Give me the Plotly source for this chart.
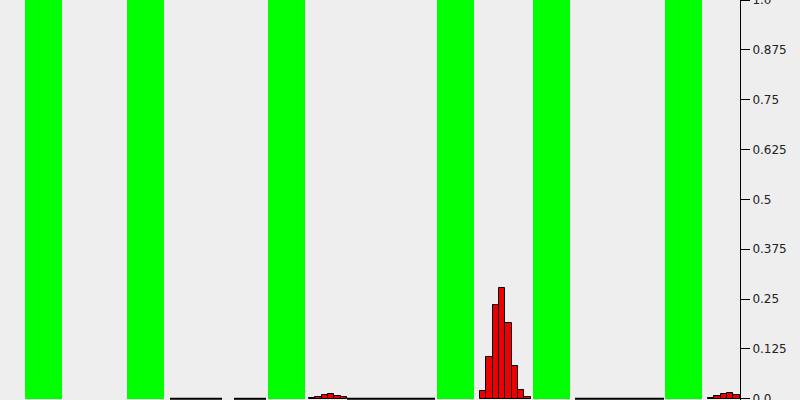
import plotly.graph_objects as go

# --- data (x in bin-position units) ---
band_starts = [25, 127, 268, 437, 533, 665]
band_width = 37
band_height = [1.0] * len(band_starts)

bin_width = 6.35
hist_main_start = 480
hist_main_vals = [0.02, 0.105, 0.235, 0.278, 0.19, 0.083, 0.023, 0.005]
hist_left_start = 309
hist_left_vals = [0.002, 0.005, 0.009, 0.011, 0.008, 0.004]
hist_right_start = 708
hist_right_bin = 6.3
hist_right_vals = [0.003, 0.008, 0.013, 0.015, 0.01]

zero_segments = [(170, 222), (234, 266), (347, 435), (575, 664)]

tick_vals = [0, 0.125, 0.25, 0.375, 0.5, 0.625, 0.75, 0.875, 1.0]
tick_text = ["0.0", "0.125", "0.25", "0.375", "0.5", "0.625", "0.75", "0.875", "1.0"]

fig = go.Figure()

fig.add_trace(go.Bar(
    x=[s + band_width / 2 for s in band_starts], y=band_height, width=band_width,
    marker=dict(color="#00ff00", line=dict(width=0)), showlegend=False, hoverinfo="skip"))

for start, vals, bw in [(hist_main_start, hist_main_vals, bin_width),
                        (hist_left_start, hist_left_vals, bin_width),
                        (hist_right_start, hist_right_vals, hist_right_bin)]:
    fig.add_trace(go.Bar(
        x=[start + bw * (i + 0.5) for i in range(len(vals))], y=vals, width=bw,
        marker=dict(color="#ee0000", line=dict(color="black", width=1)),
        showlegend=False, hoverinfo="skip"))

for a, b in zero_segments:
    fig.add_trace(go.Scatter(x=[a, b], y=[0, 0], mode="lines",
                             line=dict(color="black", width=2), showlegend=False,
                             hoverinfo="skip", cliponaxis=False))

fig.update_layout(
    width=800, height=400, margin=dict(l=0, r=60, t=0, b=0, autoexpand=False),
    paper_bgcolor="#eeeeee", plot_bgcolor="#eeeeee",
    barmode="overlay", bargap=0,
    font=dict(family="DejaVu Sans", size=12, color="#222222"),
    xaxis=dict(range=[0, 740], visible=False, showgrid=False, zeroline=False,
               automargin=False),
    yaxis=dict(range=[-0.003, 1.0], side="right", showgrid=False, zeroline=False,
               showline=True, linecolor="black", linewidth=1, ticks="outside",
               ticklen=9, tickcolor="black", tickvals=tick_vals, ticktext=tick_text,
               ticklabeloverflow="allow", automargin=False),
)

fig.write_html("out.html")
